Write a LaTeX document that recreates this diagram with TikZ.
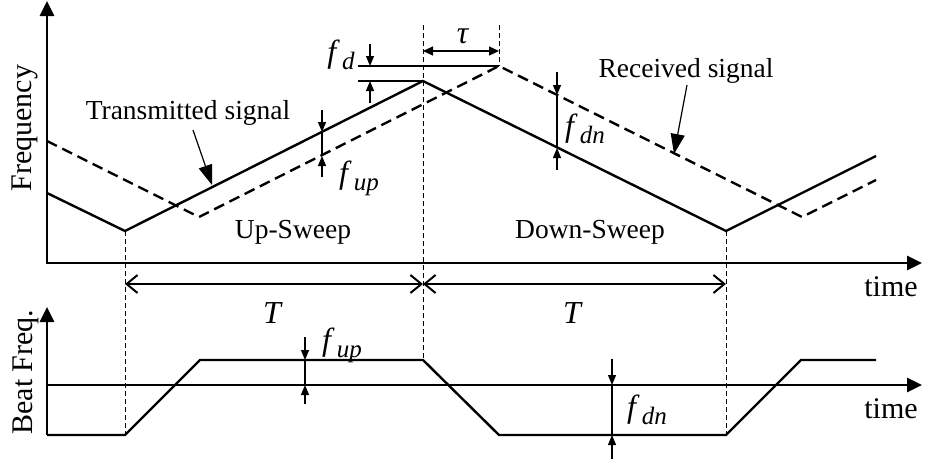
\documentclass[tikz,border=0pt]{standalone}
\usepackage{fontspec}
\setmainfont{Liberation Serif}
\usetikzlibrary{arrows.meta}
\newcommand\fsubscr[1]{\textit{f}\kern2pt\raisebox{-0.22em}{\fontsize{25}{27}\selectfont\textit{#1}}}
\begin{document}
\begin{tikzpicture}[x=1pt,y=-1pt,
  axis/.style={line width=2.8pt, line join=miter, {Triangle[length=15pt,width=14pt]}-{Triangle[length=15pt,width=14pt]}},
  axisone/.style={line width=2.8pt, -{Triangle[length=15pt,width=14pt]}},
  sig/.style={line width=2.4pt, line join=miter},
  rx/.style={sig, dash pattern=on 11pt off 6pt},
  guide/.style={line width=0.9pt, dash pattern=on 5pt off 3pt},
  dim/.style={line width=1.2pt},
  dimarrow/.style={dim, -{Triangle[length=10pt,width=8pt]}},
  tauarrow/.style={dim, {Triangle[length=10pt,width=9pt]}-{Triangle[length=10pt,width=9pt]}},
  period/.style={line width=2pt, {Straight Barb[length=11pt,width=18pt]}-{Straight Barb[length=11pt,width=18pt]}},
  callout/.style={line width=1.2pt, -{Triangle[length=20pt,width=14pt]}},
  lab/.style={font=\fontsize{27.5}{32}\selectfont, inner sep=0pt},
  axlab/.style={font=\fontsize{30}{34}\selectfont, inner sep=0pt},
  mlab/.style={font=\fontsize{32}{36}\selectfont, inner sep=0pt}]
\useasboundingbox (0,0) rectangle (925,461);

% ---------- top graph axes
\coordinate (Y1) at (47,1);
\coordinate (O1) at (47,263);
\coordinate (X1) at (922,263);
\draw[axis] (Y1) -- (O1) -- (X1);

% key points
\coordinate (t0) at (47,193);
\coordinate (t1) at (125,231);
\coordinate (t2) at (423,81);
\coordinate (t3) at (726,231);
\coordinate (t4) at (876,156);
\coordinate (r0) at (47,141);
\coordinate (r1) at (199,217);
\coordinate (r2) at (499,66);
\coordinate (r3) at (802,217);
\coordinate (r4) at (876,180);

\draw[sig] (t0) -- (t1) -- (t2) -- (t3) -- (t4);
\draw[rx] (r0) -- (r1) -- (r2) -- (r3) -- (r4);

% ---------- bottom graph axes
\coordinate (Y2) at (47,307);
\coordinate (O2) at (47,435);
\coordinate (A2) at (47,385);
\coordinate (X2) at (922,385);
\draw[axisone] (O2) -- (Y2);
\draw[axisone] (A2) -- (X2);

\coordinate (b1) at (125,435);
\coordinate (b2) at (200,360);
\coordinate (b3) at (423,360);
\coordinate (b4) at (499,435);
\coordinate (b5) at (726,435);
\coordinate (b6) at (801,360);
\coordinate (b7) at (876,360);
\draw[sig] (O2) -- (b1) -- (b2) -- (b3) -- (b4) -- (b5) -- (b6) -- (b7);

% ---------- guides
\coordinate (g2top) at (423,25);
\coordinate (g3top) at (499,25);
\draw[guide] (t1) -- (b1);
\draw[guide] (g2top) -- (b3);
\draw[guide] (g3top) -- (r2);
\draw[guide] (t3) -- (b5);

% ---------- tau
\coordinate (tauL) at (423,51);
\coordinate (tauR) at (499,51);
\draw[tauarrow] (tauL) -- (tauR);
\node[mlab] (tau) at (463,36) {\textit{τ}};

% ---------- f_d
\coordinate (fdA) at (358,66);
\coordinate (fdB) at (358,81);
\draw[dim] (fdA) -- (r2);
\draw[dim] (fdB) -- (t2);
\coordinate (fd1) at (370,44);
\coordinate (fd2) at (370,66);
\coordinate (fd3) at (370,103);
\coordinate (fd4) at (370,81);
\draw[dimarrow] (fd1) -- (fd2);
\draw[dimarrow] (fd3) -- (fd4);
\node[mlab] (fd) at (341,55) {\fsubscr{d}};

% ---------- f_up (top)
\coordinate (fu1) at (322,110);
\coordinate (fu2) at (322,132);
\coordinate (fu3) at (322,177);
\coordinate (fu4) at (322,156);
\draw[dimarrow] (fu1) -- (fu2);
\draw[dimarrow] (fu3) -- (fu4);
\draw[dim] (fu2) -- (fu4);
\node[mlab] (fup) at (359,178) {\fsubscr{up}};

% ---------- f_dn (top)
\coordinate (fn1) at (557,72);
\coordinate (fn2) at (557,95);
\coordinate (fn3) at (557,170);
\coordinate (fn4) at (557,148);
\draw[dimarrow] (fn1) -- (fn2);
\draw[dimarrow] (fn3) -- (fn4);
\draw[dim] (fn2) -- (fn4);
\node[mlab] (fdn) at (585,129) {\fsubscr{dn}};

% ---------- periods
\coordinate (p1) at (125,284);
\coordinate (p2) at (423,284);
\coordinate (p3) at (726,284);
\draw[period] (p1) -- (p2);
\draw[period] (p2) -- (p3);
\node[mlab] (T1) at (273,313) {\textit{T}};
\node[mlab] (T2) at (573,313) {\textit{T}};

% ---------- f_up (bottom)
\coordinate (bu1) at (305,337);
\coordinate (bu2) at (305,360);
\coordinate (bu3) at (305,404);
\coordinate (bu4) at (305,385);
\draw[dimarrow] (bu1) -- (bu2);
\draw[dimarrow] (bu3) -- (bu4);
\draw[dim] (bu2) -- (bu4);
\node[mlab] (bup) at (342,345) {\fsubscr{up}};

% ---------- f_dn (bottom)
\coordinate (bn1) at (612,359);
\coordinate (bn2) at (612,385);
\coordinate (bn3) at (612,459);
\coordinate (bn4) at (612,435);
\draw[dimarrow] (bn1) -- (bn2);
\draw[dimarrow] (bn3) -- (bn4);
\draw[dim] (bn2) -- (bn4);
\node[mlab] (bdn) at (647,410) {\fsubscr{dn}};

% ---------- labels
\node[lab] (txl) at (188,113) {Transmitted signal};
\coordinate (txh) at (212,185);
\draw[callout] (193,130) -- (txh);
\node[lab] (rxl) at (686,71) {Received signal};
\coordinate (rxh) at (674,154);
\draw[callout] (687,85) -- (rxh);
\node[lab] (up) at (293,232) {Up-Sweep};
\node[lab] (down) at (590,232) {Down-Sweep};
\node[axlab, rotate=90] (freq) at (25,128) {Frequency};
\node[axlab, rotate=90] (beat) at (26,372) {Beat Freq.};
\node[axlab] (time1) at (891,287) {time};
\node[axlab] (time2) at (891,409) {time};
\end{tikzpicture}
\end{document}
